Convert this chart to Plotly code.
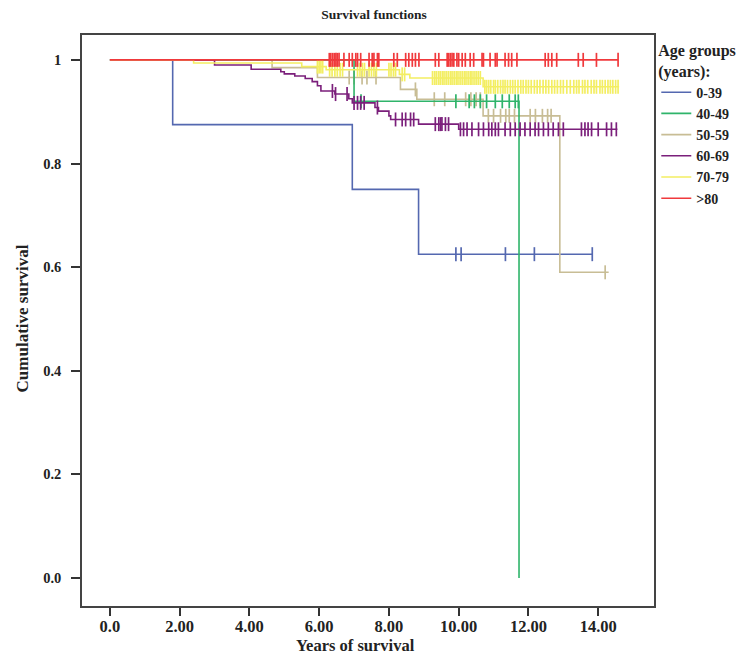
import plotly.graph_objects as go

# ---------------- data ----------------
groups = ["0-39", "40-49", "50-59", "60-69", "70-79", ">80"]
colors = ["#5468b0", "#2fb46a", "#c8bd95", "#7b1f7b", "#f3ee62", "#f0393c"]

# step curves: times at which survival changes, and survival after the change
t_0_39 = [0, 1.8, 6.95, 8.85, 13.85]
s_0_39 = [1.0, 0.875, 0.75, 0.625, 0.625]
c_0_39 = [9.92, 10.07, 11.34, 12.17, 13.83]

t_40_49 = [0, 7.0, 11.73]
s_40_49 = [1.0, 0.92, 0.0]
c_40_49 = [7.2, 9.92, 10.3, 10.45, 10.62, 10.8, 11.05, 11.25, 11.45, 11.62, 11.71]

t_50_59 = [0, 4.65, 5.95, 8.33, 8.8, 10.7, 12.9, 14.3]
s_50_59 = [1.0, 0.985, 0.966, 0.943, 0.924, 0.892, 0.59, 0.59]
c_50_59 = [6.86, 7.0, 7.23, 7.37, 7.63, 8.76, 9.3, 9.6, 10.2, 10.35, 10.5, 10.62,
           10.85, 11.0, 11.2, 11.35, 11.45, 11.6, 12.05, 12.2, 12.4, 12.55, 12.65, 14.2]

t_60_69 = [0, 3.0, 4.05, 4.9, 5.0, 5.3, 5.6, 5.8, 5.95, 6.05, 6.45, 6.85, 6.95,
           7.6, 7.7, 8.0, 8.05, 8.85, 10.0, 14.55]
s_60_69 = [1.0, 0.99, 0.982, 0.977, 0.973, 0.969, 0.964, 0.958, 0.95, 0.94, 0.934,
           0.925, 0.917, 0.908, 0.901, 0.892, 0.885, 0.876, 0.866, 0.866]
c_60_69 = [6.38, 6.47, 6.8, 7.0, 7.1, 7.19, 7.29, 7.67, 8.19, 8.38, 8.48, 8.62, 8.71,
           9.33, 9.43, 9.48, 9.52, 9.62, 9.71, 10.05, 10.14, 10.24, 10.38, 10.57, 10.71,
           10.86, 10.95, 11.05, 11.14, 11.33, 11.48, 11.62, 11.76, 11.9, 12.05, 12.19,
           12.29, 12.43, 12.57, 12.71, 12.86, 13.0, 13.52, 13.62, 13.71, 13.81, 14.0,
           14.24, 14.38, 14.52]

t_70_79 = [0, 2.4, 5.5, 6.2, 8.3, 8.6, 10.7, 14.6]
s_70_79 = [1.0, 0.994, 0.987, 0.981, 0.972, 0.965, 0.948, 0.948]
c_70_79 = [5.95, 6.0, 6.05, 6.1, 6.3, 6.37, 6.45, 6.52, 6.6, 6.67, 7.1, 7.17, 7.24, 7.3,
           7.43, 7.5, 7.57, 7.64, 8.0, 8.06, 8.13, 8.19, 8.38, 8.45, 9.25, 9.31, 9.36,
           9.42, 9.47, 9.53, 9.58, 9.64, 9.7, 9.76, 9.81, 9.87, 9.93, 9.98, 10.04, 10.1,
           10.16, 10.21, 10.27, 10.33, 10.38, 10.44, 10.5, 10.56, 10.62, 10.75, 10.8,
           10.86, 10.92, 11.0, 11.05, 11.12, 11.2, 11.27, 11.33, 11.4, 11.48, 11.55,
           11.62, 11.7, 11.78, 11.85, 11.93, 12.0, 12.08, 12.17, 12.25, 12.33, 12.42,
           12.5, 12.58, 12.67, 12.75, 12.83, 12.92, 13.0, 13.1, 13.2, 13.3, 13.38,
           13.45, 13.55, 13.62, 13.7, 13.8, 13.88, 13.95, 14.05, 14.12, 14.2, 14.28,
           14.35, 14.42, 14.5, 14.57]

t_80 = [0, 14.57]
s_80 = [1.0, 1.0]
c_80 = [6.29, 6.33, 6.38, 6.43, 6.48, 6.52, 6.57, 6.71, 6.86, 6.95, 7.05, 7.1, 7.19,
        7.43, 7.52, 7.57, 7.67, 7.71, 8.14, 8.24, 8.48, 8.57, 8.67, 8.76, 8.86, 9.33,
        9.43, 9.67, 9.71, 9.76, 9.81, 9.86, 9.95, 10.0, 10.1, 10.19, 10.33, 10.43,
        10.67, 10.71, 10.9, 11.05, 11.1, 11.33, 11.43, 11.52, 11.67, 12.48, 12.57,
        12.67, 12.81, 13.43, 13.57, 13.95, 14.57]

x_tick_vals = [0, 2, 4, 6, 8, 10, 12, 14]
x_tick_text = ["0.0", "2.00", "4.00", "6.00", "8.00", "10.00", "12.00", "14.00"]
y_tick_vals = [0, 0.2, 0.4, 0.6, 0.8, 1.0]
y_tick_text = ["0.0", "0.2", "0.4", "0.6", "0.8", "1"]

series = {
    "0-39": (t_0_39, s_0_39, c_0_39),
    "40-49": (t_40_49, s_40_49, c_40_49),
    "50-59": (t_50_59, s_50_59, c_50_59),
    "60-69": (t_60_69, s_60_69, c_60_69),
    "70-79": (t_70_79, s_70_79, c_70_79),
    ">80": (t_80, s_80, c_80),
}


def level_at(t, ts, ss):
    v = ss[0]
    for ti, si in zip(ts, ss):
        if ti <= t:
            v = si
    return v


FONT = "Liberation Serif"
fig = go.Figure()
draw_order = ["0-39", "50-59", "40-49", "60-69", "70-79", ">80"]
for g in draw_order:
    i = groups.index(g)
    ts, ss, cs = series[g]
    col = colors[i]
    fig.add_trace(go.Scatter(
        x=ts, y=ss, mode="lines", name=g, legendrank=i + 1,
        line=dict(shape="hv", color=col, width=1.6),
    ))
    fig.add_trace(go.Scatter(
        x=cs, y=[level_at(c, ts, ss) for c in cs], mode="markers",
        showlegend=False, hoverinfo="skip",
        marker=dict(symbol="line-ns-open", size=10, color=col,
                    line=dict(color=col, width=1.7)),
    ))

# the page body has an 8px margin, so the figure is 8px smaller on each axis
W, H = 742, 647
fig.update_layout(
    width=W, height=H,
    margin=dict(l=74, r=94, t=27, b=49),
    paper_bgcolor="white", plot_bgcolor="white",
    font=dict(family=FONT, color="#222"),
    showlegend=True,
    title=dict(text="<b>Survival functions</b>", x=366 / W, xref="container",
               y=1 - 6 / H, yref="container", xanchor="center", yanchor="middle",
               font=dict(family=FONT, size=13.5, color="#222")),
    legend=dict(
        x=1.004, xanchor="left", y=1.0, yanchor="top",
        title=dict(text="<b>Age groups<br>(years):</b>",
                   font=dict(family=FONT, size=16, color="#222")),
        font=dict(family=FONT, size=14, color="#222", weight="bold"),
        bgcolor="rgba(0,0,0,0)", borderwidth=0, tracegroupgap=0,
        itemwidth=30,
    ),
    xaxis=dict(range=[-0.8, 15.6], tickvals=x_tick_vals, ticktext=x_tick_text,
               ticks="outside", ticklen=8, tickwidth=1.5, tickcolor="#333",
               showline=True, linecolor="#444", linewidth=1.5, mirror=True,
               showgrid=False, zeroline=False, ticklabelstandoff=-4,
               tickfont=dict(family=FONT, size=16.5, color="#222", weight="bold")),
    yaxis=dict(range=[-0.054, 1.048], tickvals=y_tick_vals, ticktext=y_tick_text,
               ticks="outside", ticklen=9, tickwidth=1.5, tickcolor="#333",
               showline=True, linecolor="#444", linewidth=1.5, mirror=True,
               showgrid=False, zeroline=False,
               tickfont=dict(family=FONT, size=14.5, color="#222", weight="bold"),
               ticklabelstandoff=7),
    annotations=[
        dict(text="<b>Years of survival</b>", xref="paper", yref="paper",
             x=0.479, y=-0.07, xanchor="center", yanchor="middle", showarrow=False,
             font=dict(family=FONT, size=16.5, color="#222")),
        dict(text="<b>Cumulative survival</b>", xref="paper", yref="paper",
             x=-0.1045, y=0.504, xanchor="center", yanchor="middle", showarrow=False,
             textangle=-90, font=dict(family=FONT, size=17, color="#222")),
    ],
)

fig.write_html("out.html")
